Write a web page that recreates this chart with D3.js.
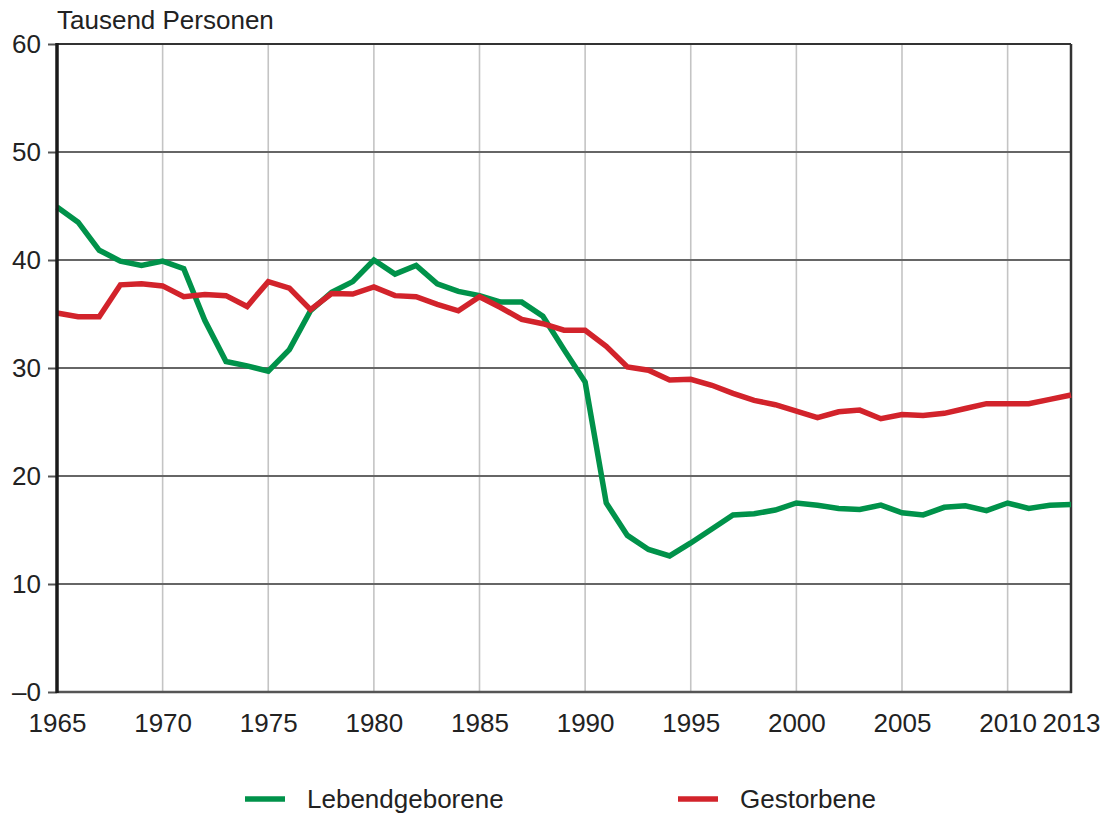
<!DOCTYPE html>
<html><head><meta charset="utf-8">
<script src="https://cdn.jsdelivr.net/npm/d3@7"></script>
<style>body{margin:0;background:#fff}svg{display:block}text{font-family:"Liberation Sans",Arial,sans-serif;fill:#222}</style>
</head><body><svg id="c" width="1108" height="817"></svg>
<script>
const years = d3.range(1965, 2014);
const births = [44.9,43.5,40.9,39.9,39.5,39.9,39.2,34.4,30.6,30.2,29.7,31.7,35.3,37.0,38.0,40.0,38.7,39.5,37.8,37.1,36.7,36.1,36.1,34.8,31.7,28.7,17.5,14.5,13.2,12.6,13.8,15.1,16.4,16.5,16.85,17.5,17.3,17.0,16.9,17.3,16.6,16.4,17.1,17.25,16.8,17.5,17.0,17.3,17.35];
const deaths = [35.1,34.75,34.75,37.7,37.8,37.6,36.6,36.8,36.7,35.7,38.0,37.4,35.4,36.9,36.85,37.5,36.7,36.6,35.9,35.3,36.6,35.6,34.5,34.1,33.5,33.5,32.0,30.1,29.8,28.9,28.95,28.4,27.65,27.0,26.6,26.0,25.4,25.95,26.1,25.3,25.7,25.6,25.8,26.25,26.7,26.7,26.7,27.1,27.5];
const xTicks = [1965,1970,1975,1980,1985,1990,1995,2000,2005,2010,2013];
const yTicks = [0,10,20,30,40,50,60];
const yTickLabels = ["–0","10","20","30","40","50","60"];
const seriesNames = ["Lebendgeborene","Gestorbene"];
const seriesColors = ["#00924A","#D2232B"];
const yTitle = "Tausend Personen";

const svg = d3.select("#c");
const x = d3.scaleLinear().domain([1965,2013]).range([57,1071]);
const y = d3.scaleLinear().domain([0,60]).range([692,44]);
const FS = 26;

// vertical grid
svg.append("g").selectAll("line").data(xTicks.filter(t=>t>1965&&t<2013)).join("line")
  .attr("x1",d=>x(d)).attr("x2",d=>x(d)).attr("y1",y(60)).attr("y2",y(0))
  .attr("stroke","#c4c4c4").attr("stroke-width",1.6);
// horizontal grid
svg.append("g").selectAll("line").data(yTicks.filter(t=>t>0&&t<60)).join("line")
  .attr("x1",x(1965)).attr("x2",x(2013)).attr("y1",d=>y(d)).attr("y2",d=>y(d))
  .attr("stroke","#666").attr("stroke-width",2);

// frame
svg.append("line").attr("x1",x(1965)).attr("x2",x(2013)).attr("y1",y(60)).attr("y2",y(60)).attr("stroke","#333").attr("stroke-width",2);
svg.append("line").attr("x1",x(1965)).attr("x2",x(2013)+1).attr("y1",y(0)).attr("y2",y(0)).attr("stroke","#555").attr("stroke-width",2.5);
svg.append("line").attr("x1",x(2013)).attr("x2",x(2013)).attr("y1",y(60)).attr("y2",y(0)+1).attr("stroke","#333").attr("stroke-width",2.5);

// y axis
const yAxis = d3.axisLeft(y).tickValues(yTicks).tickSize(9).tickPadding(7)
  .tickFormat((d,i)=>yTickLabels[i]);
const gy = svg.append("g").attr("transform",`translate(${x(1965)},0)`).call(yAxis);
gy.select(".domain").remove();
gy.selectAll(".tick line").attr("stroke","#555").attr("stroke-width",2);
gy.selectAll(".tick text").attr("font-size",FS).attr("fill","#222").attr("font-family","Liberation Sans, Arial, sans-serif");

// x axis labels
const xAxis = d3.axisBottom(x).tickValues(xTicks).tickSize(0).tickPadding(22).tickFormat(d3.format("d"));
const gx = svg.append("g").attr("transform",`translate(0,${y(0)})`).call(xAxis);
gx.select(".domain").remove();
gx.selectAll(".tick text").attr("font-size",FS).attr("fill","#222").attr("font-family","Liberation Sans, Arial, sans-serif");

// lines
const line = d3.line().x((d,i)=>x(years[i])).y(d=>y(d));
[births,deaths].forEach((s,k)=>{
  svg.append("path").datum(s).attr("d",line).attr("fill","none")
    .attr("stroke",seriesColors[k]).attr("stroke-width",5.5).attr("stroke-linejoin","miter");
});
// left axis on top
svg.append("line").attr("x1",x(1965)).attr("x2",x(1965)).attr("y1",y(60)-1).attr("y2",y(0)+1).attr("stroke","#1a1a1a").attr("stroke-width",3.5);

// title
svg.append("text").attr("x",57).attr("y",29).attr("font-size",FS).text(yTitle);

// legend
const legX = [245,678];
seriesNames.forEach((n,k)=>{
  svg.append("line").attr("x1",legX[k]).attr("x2",legX[k]+40).attr("y1",799).attr("y2",799)
    .attr("stroke",seriesColors[k]).attr("stroke-width",5.5);
  svg.append("text").attr("x",legX[k]+62).attr("y",808).attr("font-size",FS).text(n);
});
</script></body></html>
